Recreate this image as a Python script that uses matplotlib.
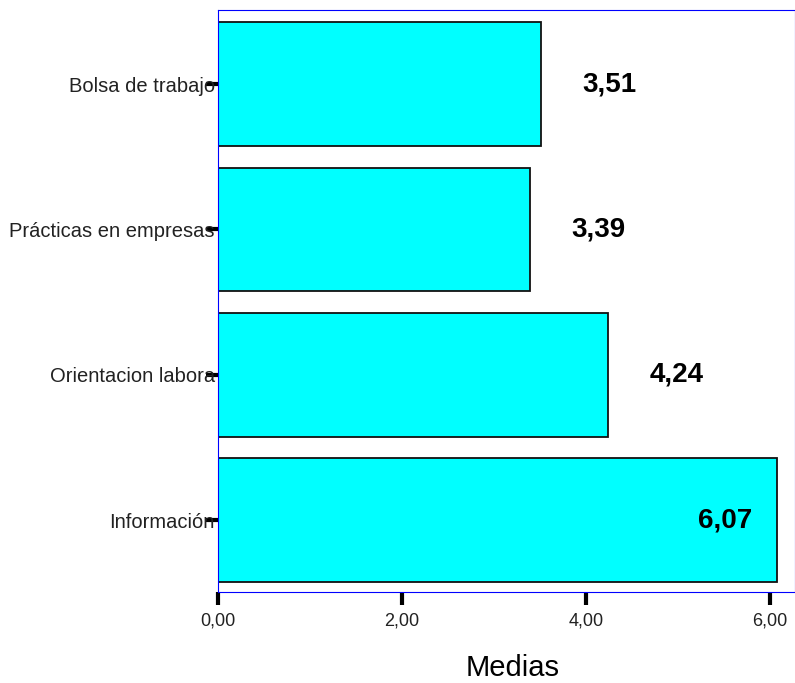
import matplotlib.pyplot as plt

# datos
categorias = ['Información', 'Orientacion labora', 'Prácticas en empresas', 'Bolsa de trabajo']
medias = [6.07, 4.24, 3.39, 3.51]
etiquetas = ['6,07', '4,24', '3,39', '3,51']
xticks = [0, 2, 4, 6]
xtick_labels = ['0,00', '2,00', '4,00', '6,00']

plt.rcParams['font.family'] = ['Liberation Sans', 'DejaVu Sans']

fig = plt.figure(figsize=(7.95, 6.83), dpi=100)
ax = fig.add_axes([0.2742, 0.1332, 0.7258, 0.8522])

pos = list(range(len(categorias)))
ax.barh(pos, medias, height=0.85, color='#00ffff', edgecolor='#111111', linewidth=1.3, zorder=2)

ax.set_xlim(0, 6.27)
ax.set_ylim(-0.495, 3.51)

# etiquetas de valor
for y, v, t in zip(pos, medias, etiquetas):
    x = min(v + 0.45, 5.22)
    ax.text(x, y, t, ha='left', va='center', fontsize=20, fontweight='bold', zorder=3)

ax.set_yticks(pos)
ax.set_yticklabels(categorias, fontsize=14.5, color='#222222')
ax.set_xticks(xticks)
ax.set_xticklabels(xtick_labels, fontsize=13, color='#222222')

ax.tick_params(axis='y', direction='out', length=8.5, width=3, color='black', pad=-6.3)
ax.tick_params(axis='x', direction='out', length=9, width=3, color='black', pad=6)

for s in ax.spines.values():
    s.set_color('#0000ff')
    s.set_linewidth(0.8)

ax.set_xlabel('Medias', fontsize=21, labelpad=12)
ax.xaxis.set_label_coords(0.511, -0.106)

plt.savefig('out.png', dpi=100)
